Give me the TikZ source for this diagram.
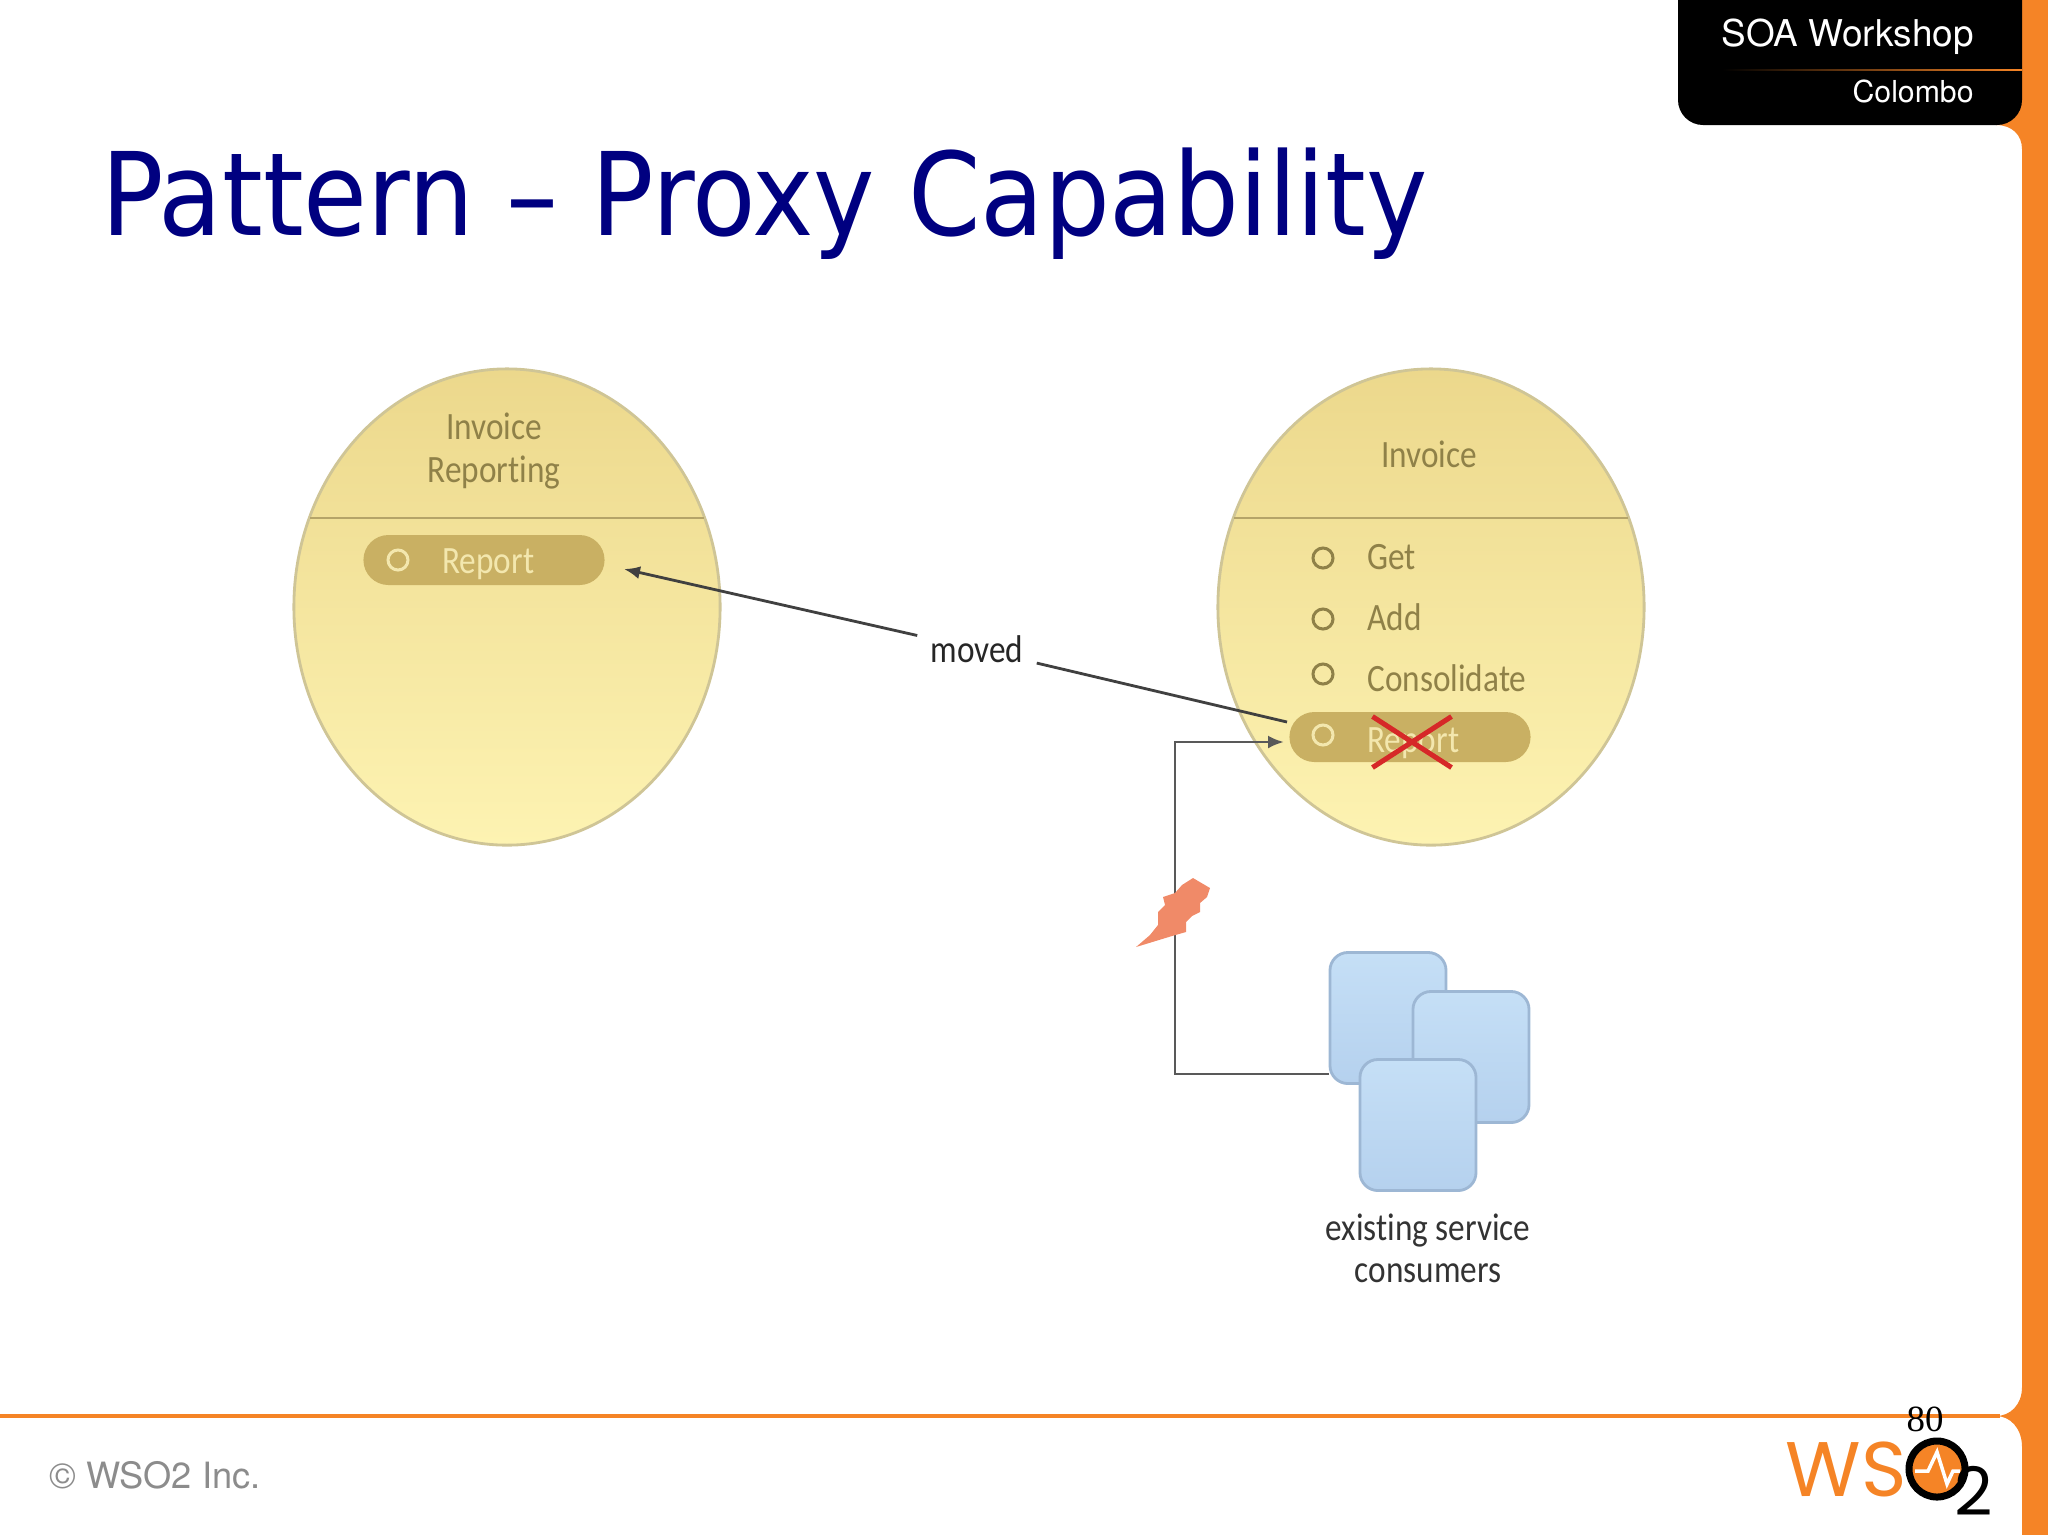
\documentclass[tikz,border=0pt]{standalone}
\usepackage{fontspec}
\setmainfont{Carlito}[FakeStretch=0.86,Ligatures=NoCommon]
\newfontfamily\titlefont{DejaVu Sans Condensed}
\newfontfamily\headfont{TeX Gyre Heros}
\newfontfamily\pagefont{Liberation Serif}
\newfontfamily\logofont{Poppins}
\usetikzlibrary{shapes.geometric,shapes.misc,arrows.meta}
\definecolor{wsorange}{HTML}{F58426}
\definecolor{titleblue}{HTML}{000080}
\definecolor{olivetext}{HTML}{8F8148}
\definecolor{pillfill}{HTML}{C9B063}
\definecolor{pilltext}{HTML}{F3E7AE}
\definecolor{rimcolor}{HTML}{CFC596}
\definecolor{chordcolor}{HTML}{B5A468}
\definecolor{flash}{HTML}{F08A68}
\begin{document}
\begin{tikzpicture}[x=0.01cm,y=-0.01cm,thick,inner sep=0,
    service/.style={ellipse,draw=rimcolor,top color={rgb,255:red,236;green,216;blue,140},bottom color={rgb,255:red,253;green,243;blue,178},minimum width=4.26cm,minimum height=4.76cm},
    pill/.style={rounded rectangle,fill=pillfill,minimum width=2.41cm,minimum height=0.5cm},
    radio/.style={circle,draw=olivetext,line width=0.3mm,minimum size=0.2cm},
    radiolight/.style={circle,draw=pilltext,line width=0.3mm,minimum size=0.2cm},
    capname/.style={text=olivetext,font=\fontsize{11}{11}\selectfont,anchor=west},
    consumer/.style={rectangle,rounded corners=0.18cm,draw={rgb,255:red,157;green,183;blue,212},top color={rgb,255:red,197;green,223;blue,246},bottom color={rgb,255:red,181;green,209;blue,238},minimum width=1.16cm,minimum height=1.31cm},
    tip/.style={-{Latex[length=1.6mm,width=1.3mm]}}]
    \useasboundingbox (0,0) rectangle (2048,1535);

    %page frame
    \fill [wsorange] (2022,0) rectangle (2048,1535);
    \fill [wsorange] (1996,100) -- (2022,100) -- (2022,149) .. controls (2022,135) and (2012,125) .. (1996,125) -- cycle;
    \fill [wsorange] (2022,1387) .. controls (2022,1405) and (2010,1416) .. (1996,1416) .. controls (2010,1416) and (2022,1428) .. (2022,1447) -- cycle;
    \draw [wsorange,line width=0.35mm] (0,1416) to (2000,1416);
    \fill [black,rounded corners=0.25cm] (1678,-40) rectangle (2022,125);
    \shade [left color=black,right color=wsorange,middle color=black!50!wsorange] (1722,69) rectangle (2022,70.5);

    %header
    \node (workshop) at (1975,37)[anchor=east,text=white,font=\headfont\fontsize{10.5}{10.5}\selectfont]{SOA Workshop};
    \node (city) at (1975,91)[anchor=east,text=white,font=\headfont\fontsize{8.6}{8.6}\selectfont]{Colombo};
    \node (title) at (100,235)[anchor=base west,text=titleblue,font=\titlefont\fontsize{32.8}{32.8}\selectfont]{Pattern – Proxy Capability};

    %services
    \node (reporting) at (507,607)[service]{};
    \node (invoice) at (1431,607)[service]{};
    \coordinate (repleft) at (310,518);
    \coordinate (repright) at (704,518);
    \coordinate (invleft) at (1234,518);
    \coordinate (invright) at (1628,518);
    \draw [chordcolor] (repleft) to (repright);
    \draw [chordcolor] (invleft) to (invright);
    \node (reportingname) at (494,451)[align=center,text=olivetext,font=\fontsize{11}{12.2}\selectfont]{Invoice\\Reporting};
    \node (invoicename) at (1429,454)[text=olivetext,font=\fontsize{11}{11}\selectfont]{Invoice};

    %capabilities
    \node (newpill) at (484,560)[pill]{};
    \node (newradio) at (398,560)[radiolight]{};
    \node (newreport) at (441,564)[capname,text=pilltext]{Report};

    \node (getradio) at (1323,558)[radio]{};
    \node (get) at (1366,557)[capname]{Get};
    \node (addradio) at (1323,619)[radio]{};
    \node (add) at (1366,617)[capname]{Add};
    \node (consradio) at (1323,674)[radio]{};
    \node (cons) at (1366,678)[capname]{Consolidate};
    \node (oldpill) at (1410,737)[pill]{};
    \node (oldradio) at (1323,735)[radiolight]{};
    \node (oldreport) at (1366,743)[capname,text=pilltext]{Report};
    \node (crossx) at (1412,742)[cross out,draw={rgb,255:red,214;green,40;blue,40},line width=0.5mm,minimum width=0.74cm,minimum height=0.46cm]{};

    %moved arrow
    \node (moved) at (977,649)[inner sep=0.12cm,font=\fontsize{11}{11}\selectfont,text=black!85]{moved};
    \coordinate (oldout) at (1287,722);
    \coordinate (newin) at (624,569);
    \draw [black!75] (oldout) to (moved);
    \draw [tip,black!75] (moved) to (newin);

    %consumers
    \node (consumer1) at (1388,1018)[consumer]{};
    \node (consumer2) at (1471,1057)[consumer]{};
    \node (consumer3) at (1418,1125)[consumer]{};
    \coordinate (corner1) at (1175,1074);
    \coordinate (corner2) at (1175,742);
    \coordinate (oldin) at (1284,742);
    \draw [black!65,tip] (consumer1.south west |- corner1) to (corner1) to (corner2) to (oldin);
    \node (consumername) at (1428,1248)[align=center,font=\fontsize{11}{12}\selectfont,text=black!80]{existing service\\consumers};

    %flash
    \fill [flash] (1193,878) -- (1210,888) -- (1207,897) -- (1200,903) -- (1200,912) -- (1192,916) -- (1186,922) -- (1186,932) -- (1172,936) -- (1136,947) -- (1150,935) -- (1158,925) -- (1158,912) -- (1165,905) -- (1163,897) -- (1175,893) -- (1182,885) -- cycle;

    %footer
    \node (copyright) at (48,1475)[anchor=west,text=black!45,font=\headfont\fontsize{10.3}{10.3}\selectfont]{© WSO2 Inc.};
    \node (pagenum) at (1925,1419)[text=black,font=\pagefont\fontsize{10.5}{10.5}\selectfont]{80};
    \node (logows) at (1908,1469)[anchor=east,text=wsorange,font=\logofont\fontsize{22}{22}\selectfont]{WS};
    \node (logoo) at (1937,1469)[circle,fill=wsorange,draw=black,line width=0.7mm,minimum size=0.56cm]{};
    \draw [white,line width=0.35mm] (1915,1471) -- (1928,1471) -- (1937,1452) -- (1947,1484) -- (1953,1471) -- (1960,1471);
    \node (logotwo) at (1974,1491)[text=black,font=\logofont\fontsize{19}{19}\selectfont]{2};
\end{tikzpicture}
\end{document}
